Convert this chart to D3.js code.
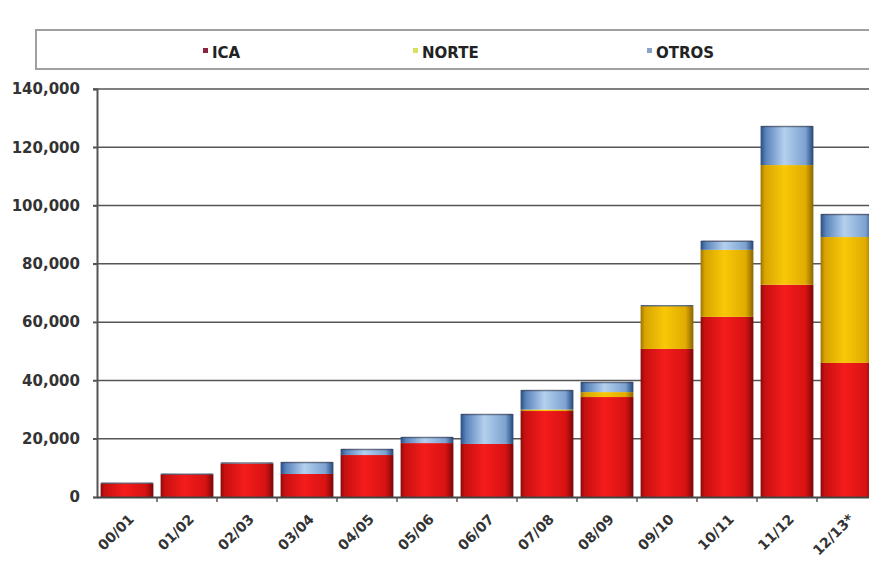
<!DOCTYPE html>
<html>
<head>
<meta charset="utf-8">
<script src="https://cdn.jsdelivr.net/npm/d3@7/dist/d3.min.js"></script>
<style>
  body { margin: 0; background: #fff; }
  svg { display: block; }
</style>
</head>
<body>
<div id="chart"></div>
<script>
// campaign years
var categories = ["00/01","01/02","02/03","03/04","04/05","05/06","06/07","07/08","08/09","09/10","10/11","11/12","12/13*"];
// stacked series (tonnes)
var ica   = [4700, 7800, 11500, 7900, 14400, 18500, 18200, 29500, 34300, 50800, 61800, 72800, 46000];
var norte = [0, 0, 0, 0, 0, 0, 0, 500, 1700, 14700, 23000, 41100, 43200];
var otros = [200, 200, 300, 4100, 2100, 2100, 10300, 6700, 3500, 300, 3100, 13400, 7900];
var seriesNames = ["ICA", "NORTE", "OTROS"];
var yTicks = [0, 20000, 40000, 60000, 80000, 100000, 120000, 140000];

var W = 869, H = 563;
var svg = d3.select("#chart").append("svg").attr("width", W).attr("height", H);

var x = d3.scaleBand().domain(categories).range([97, 877]).paddingInner(0.12).paddingOuter(0.06);
var y = d3.scaleLinear().domain([0, 140000]).range([497, 89]);

// gradients to fake the cylinder look
var defs = svg.append("defs");
function hGrad(id, stops) {
  var g = defs.append("linearGradient").attr("id", id).attr("x1", "0%").attr("x2", "100%").attr("y1", "0%").attr("y2", "0%");
  stops.forEach(function(s) { g.append("stop").attr("offset", s[0]).attr("stop-color", s[1]); });
}
hGrad("gICA",   [["0%", "#8c0a0a"], ["8%", "#c81010"], ["45%", "#f41c1c"], ["85%", "#d81212"], ["100%", "#7a0808"]]);
hGrad("gNORTE", [["0%", "#9a7400"], ["8%", "#d8a400"], ["45%", "#f8c808"], ["85%", "#e0ac00"], ["100%", "#8a6600"]]);
hGrad("gOTROS", [["0%", "#2a4c80"], ["10%", "#5a84bc"], ["45%", "#b4d0ee"], ["85%", "#7ca2d0"], ["100%", "#24467a"]]);
var fills = { ICA: "url(#gICA)", NORTE: "url(#gNORTE)", OTROS: "url(#gOTROS)" };
var legendCol = { ICA: "#8a2440", NORTE: "#d8e060", OTROS: "#8aa4c8" };

// legend frame
svg.append("rect").attr("x", 36).attr("y", 30).attr("width", 850).attr("height", 39)
  .attr("fill", "#fff").attr("stroke", "#a0a0a0").attr("stroke-width", 2);
var legX = [203, 413, 647];
seriesNames.forEach(function(n, i) {
  svg.append("rect").attr("x", legX[i]).attr("y", 48).attr("width", 5).attr("height", 5).attr("fill", legendCol[n]);
  svg.append("text").attr("x", legX[i] + 9).attr("y", 58).text(n)
    .attr("font-family", "DejaVu Sans, Verdana").attr("font-weight", "bold")
    .attr("font-size", 15).attr("fill", "#222");
});

// grid lines
svg.append("g").selectAll("line").data(yTicks.slice(1)).enter().append("line")
  .attr("x1", 93).attr("x2", W).attr("y1", function(d) { return y(d); }).attr("y2", function(d) { return y(d); })
  .attr("stroke", "#555").attr("stroke-width", 1.5);

// stacked bars
var rows = categories.map(function(c, i) { return { cat: c, ICA: ica[i], NORTE: norte[i], OTROS: otros[i] }; });
var stack = d3.stack().keys(seriesNames)(rows);
stack.forEach(function(layer) {
  svg.append("g").selectAll("rect").data(layer).enter().append("rect")
    .attr("x", function(d) { return x(d.data.cat); })
    .attr("width", x.bandwidth())
    .attr("y", function(d) { return y(d[1]); })
    .attr("height", function(d) { return Math.max(0, y(d[0]) - y(d[1])); })
    .attr("fill", fills[layer.key]);
});
// dark rim on top of each stack
svg.append("g").selectAll("line").data(stack[2]).enter().append("line")
  .attr("x1", function(d) { return x(d.data.cat) + 1; })
  .attr("x2", function(d) { return x(d.data.cat) + x.bandwidth() - 1; })
  .attr("y1", function(d) { return y(d[1]) + 0.5; }).attr("y2", function(d) { return y(d[1]) + 0.5; })
  .attr("stroke", "#3a3a4a").attr("stroke-opacity", 0.6).attr("stroke-width", 1.5);

// y axis
var yAxis = svg.append("g").attr("transform", "translate(97,0)")
  .call(d3.axisLeft(y).tickValues(yTicks).tickSize(4).tickPadding(13).tickFormat(d3.format(",")));
yAxis.select(".domain").attr("stroke", "#555").attr("stroke-width", 2);
yAxis.selectAll(".tick line").attr("stroke", "#555").attr("stroke-width", 1.5);
yAxis.selectAll("text").attr("font-family", "DejaVu Sans, Verdana").attr("font-weight", "bold")
  .attr("font-size", 15).attr("fill", "#333");

// x axis
var xAxis = svg.append("g").attr("transform", "translate(0,497)")
  .call(d3.axisBottom(x).tickSize(0).tickPadding(0));
xAxis.select(".domain").attr("stroke", "#444").attr("stroke-width", 2);
xAxis.selectAll(".tick text")
  .attr("font-family", "DejaVu Sans, Verdana").attr("font-weight", "bold").attr("font-size", 14).attr("fill", "#333")
  .attr("text-anchor", "end").attr("dy", 0)
  .attr("transform", "translate(8,23) rotate(-45)");
// separators between categories
svg.append("g").selectAll("line").data(categories.slice(1)).enter().append("line")
  .attr("x1", function(d) { return x(d) - x.step() * x.paddingInner() / 2; })
  .attr("x2", function(d) { return x(d) - x.step() * x.paddingInner() / 2; })
  .attr("y1", 497).attr("y2", 502).attr("stroke", "#555").attr("stroke-width", 1.5);
</script>
</body>
</html>
